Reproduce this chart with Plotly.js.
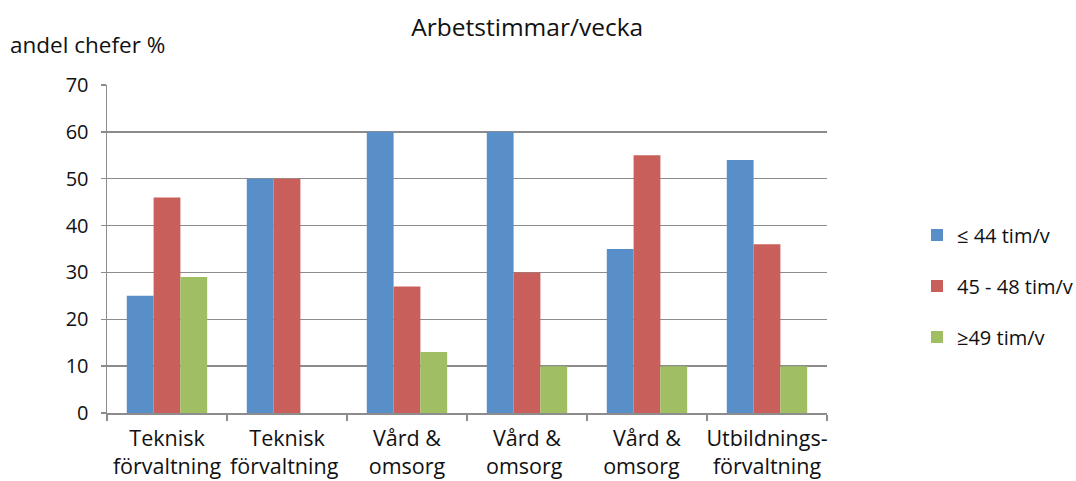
<!DOCTYPE html>
<html>
<head>
<meta charset="utf-8">
<script src="https://cdn.plot.ly/plotly-3.0.1.min.js"></script>
<style>
  html, body { margin: 0; padding: 0; background: #fff; }
  #chart { width: 1076px; height: 481px; }
</style>
</head>
<body>
<div id="chart"></div>
<script>
// categories (trailing spaces keep the repeated names apart on the category axis)
var categories = [
  "Teknisk<br>förvaltning",
  "Teknisk<br>förvaltning ",
  "Vård &<br>omsorg",
  "Vård &<br>omsorg ",
  "Vård &<br>omsorg  ",
  "Utbildnings-<br>förvaltning"
];

var seriesNames = ["≤ 44 tim/v", "45 - 48 tim/v", "≥49 tim/v"];

var upTo44 = [25, 50, 60, 60, 35, 54];
var from45to48 = [46, 50, 27, 30, 55, 36];
var from49 = [29, 0, 13, 10, 10, 10];

var colors = ["#588fc9", "#c95f5a", "#a0bf62"];

var chart = document.getElementById("chart");

var data = [upTo44, from45to48, from49].map(function (vals, i) {
  return {
    x: categories,
    y: vals,
    type: "bar",
    name: seriesNames[i],
    legendgroup: "g" + i,
    marker: { color: colors[i] },
    hoverinfo: "y+name"
  };
});

var gray = "#8c8c8c";
var font = "Open Sans, DejaVu Sans, sans-serif";

var layout = {
  width: 1076,
  height: 481,
  margin: { l: 107, r: 249, t: 85, b: 68, autoexpand: false },
  paper_bgcolor: "#fff",
  plot_bgcolor: "#fff",
  font: { family: font, color: "#111", size: 20 },
  title: {
    text: "Arbetstimmar/vecka",
    font: { size: 24.5, family: font, color: "#111" },
    x: 0.49,
    xanchor: "center",
    y: 0.942,
    yanchor: "middle"
  },
  barmode: "group",
  bargap: 0.33,
  bargroupgap: 0,
  xaxis: {
    type: "category",
    showgrid: false,
    showline: true,
    linecolor: gray,
    linewidth: 1.5,
    ticks: "outside",
    tickson: "boundaries",
    ticklen: 6,
    tickcolor: gray,
    tickwidth: 1.5,
    tickangle: 0,
    ticklabelstandoff: 6,
    tickfont: { size: 21.5 }
  },
  yaxis: {
    range: [0, 70],
    dtick: 10,
    showgrid: true,
    gridcolor: gray,
    gridwidth: 1.5,
    showline: true,
    linecolor: gray,
    linewidth: 1.5,
    ticks: "outside",
    ticklen: 5,
    tickcolor: gray,
    tickwidth: 1.5,
    ticklabelstandoff: 8,
    zeroline: false,
    tickfont: { size: 20 }
  },
  legend: {
    x: 1.125,
    xanchor: "left",
    y: 0.387,
    yanchor: "middle",
    traceorder: "grouped",
    tracegroupgap: 22,
    font: { size: 20 }
  },
  annotations: [{
    text: "andel chefer %",
    xref: "paper",
    yref: "paper",
    x: -0.1375,
    xanchor: "left",
    y: 1.122,
    yanchor: "middle",
    showarrow: false,
    font: { size: 22.5, family: font, color: "#111" }
  }]
};

Plotly.newPlot(chart, data, layout, { displayModeBar: false, staticPlot: true });
</script>
</body>
</html>
